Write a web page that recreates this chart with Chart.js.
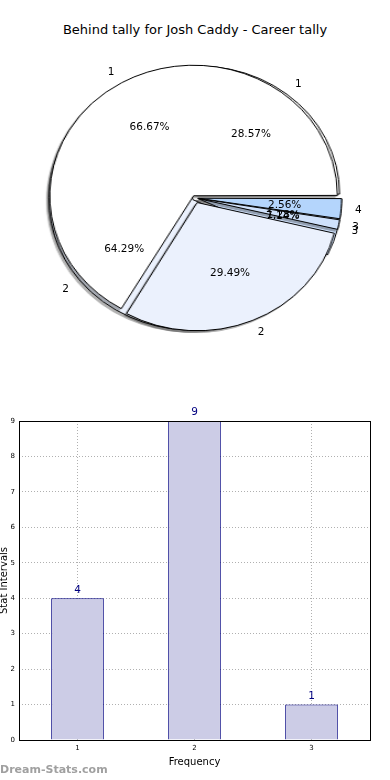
<!DOCTYPE html>
<html>
<head>
<meta charset="utf-8">
<script src="https://cdn.jsdelivr.net/npm/chart.js@4.4.0/dist/chart.umd.min.js"></script>
<style>
  body { margin: 0; background: #fff; width: 390px; height: 780px; overflow: hidden; position: relative; font-family: "DejaVu Sans", sans-serif; }
  #title { position: absolute; top: 22px; left: 0; width: 390px; text-align: center; font-size: 13px; color: #000; }
  .pie { position: absolute; left: 44.7px; top: 48.4px; transform: scaleX(1.1016); transform-origin: 150px 150px; filter: drop-shadow(-2px 2px 0 rgba(0,0,0,0.3)); }
  #pieText { position: absolute; left: 0; top: 0; }
  #bars { position: absolute; left: 0; top: 400px; }
  #mark { position: absolute; left: 0; top: 763px; font-size: 11px; font-weight: bold; color: #a0a0a0; }
</style>
</head>
<body>
<div id="title">Behind tally for Josh Caddy - Career tally</div>
<canvas id="pieA" class="pie" width="300" height="300"></canvas>
<canvas id="pieB" class="pie" width="300" height="300"></canvas>
<canvas id="pieText" width="390" height="400"></canvas>
<canvas id="bars" width="390" height="380"></canvas>
<div id="mark">Dream-Stats.com</div>

<script>
// pie 1 (frequency split) and pie 2 (drawn on top)
const pieLabelsA = ['1', '2', '3'];
const pieValuesA = [4, 9, 1];
const pieLabelsB = ['1', '2', '3', '4'];
const pieValuesB = [52, 23, 1, 2];

// bars
const barLabels = ['1', '2', '3'];
const barValues = [4, 9, 1];

// styling
const pieColors = ['#ffffff', '#ebf1fd', '#cfe1fb', '#b4d5fc'];
const explodeA = [0.04, 0.04, 0.04];
const explodeB = [0.04, 0.04, 0.04, 0.04];
const PIE_R = 128;
const PIE_LEFT = 44.7, PIE_TOP = 48.4, PIE_SX = 1.1016;
const FONT = '"DejaVu Sans", sans-serif';

const textCtx = document.getElementById('pieText').getContext('2d');

function arcShift(arc) {
  const c = arc.endAngle - arc.startAngle;
  const fix = 1 - Math.sin(Math.min(Math.PI, c));
  return (arc.options.offset || 0) / 4 * (1 + fix);
}

function toPage(x, y) {
  return [PIE_LEFT + 150 + (x - 150) * PIE_SX, PIE_TOP + y];
}

const pieText = {
  id: 'pieText',
  afterDraw(chart) {
    const meta = chart.getDatasetMeta(0);
    const vals = chart.data.datasets[0].data;
    const total = vals.reduce((a, b) => a + b, 0);
    const ctx = textCtx;
    ctx.save();
    ctx.fillStyle = '#000';
    ctx.font = '10.5px ' + FONT;
    ctx.textBaseline = 'middle';
    meta.data.forEach((arc, k) => {
      const mid = (arc.startAngle + arc.endAngle) / 2;
      const d = arcShift(arc);
      const r = arc.outerRadius;
      const cx = arc.x + Math.cos(mid) * d;
      const cy = arc.y + Math.sin(mid) * d;
      const [px, py] = toPage(cx + Math.cos(mid) * r * 0.6, cy + Math.sin(mid) * r * 0.6);
      ctx.textAlign = 'center';
      ctx.fillText((vals[k] / total * 100).toFixed(2) + '%', px, py);
      const [lx, ly] = toPage(cx + Math.cos(mid) * r * 1.1, cy + Math.sin(mid) * r * 1.1);
      ctx.textAlign = Math.cos(mid) > 0 ? 'left' : 'right';
      ctx.fillText(chart.data.labels[k], lx, ly);
    });
    ctx.restore();
  }
};

function drawPie(id, labels, values, explode) {
  const total = values.reduce((a, b) => a + b, 0);
  const order = labels.map((_, i) => i).reverse();
  const offsets = order.map(i => {
    const c = values[i] / total * 2 * Math.PI;
    const fix = 1 - Math.sin(Math.min(Math.PI, c));
    return 4 * explode[i] * PIE_R / (1 + fix);
  });
  return new Chart(document.getElementById(id), {
    type: 'pie',
    data: {
      labels: order.map(i => labels[i]),
      datasets: [{
        data: order.map(i => values[i]),
        backgroundColor: order.map(i => pieColors[i]),
        borderColor: '#000',
        borderWidth: 1,
        offset: offsets
      }]
    },
    options: {
      responsive: false,
      animation: false,
      events: [],
      rotation: 90,
      radius: PIE_R,
      plugins: { legend: { display: false }, tooltip: { enabled: false } }
    },
    plugins: [pieText]
  });
}

drawPie('pieA', pieLabelsA, pieValuesA, explodeA);
drawPie('pieB', pieLabelsB, pieValuesB, explodeB);

const frame = {
  id: 'frame',
  afterDraw(chart) {
    const { ctx, chartArea: a } = chart;
    ctx.save();
    ctx.strokeStyle = '#000';
    ctx.lineWidth = 1;
    ctx.strokeRect(Math.round(a.left) + 0.5, Math.round(a.top) + 0.5, Math.round(a.right - a.left), Math.round(a.bottom - a.top));
    ctx.restore();
  }
};

const valueLabels = {
  id: 'valueLabels',
  afterDatasetsDraw(chart) {
    const { ctx } = chart;
    const meta = chart.getDatasetMeta(0);
    ctx.save();
    ctx.fillStyle = '#000080';
    ctx.font = '10.5px ' + FONT;
    ctx.textAlign = 'center';
    ctx.textBaseline = 'bottom';
    meta.data.forEach((bar, i) => {
      ctx.fillText(String(barValues[i]), bar.x, bar.y - 3);
    });
    ctx.restore();
  }
};

new Chart(document.getElementById('bars'), {
  type: 'bar',
  data: {
    labels: barLabels,
    datasets: [{
      data: barValues,
      backgroundColor: '#cccce6',
      borderColor: '#000080',
      borderWidth: 1,
      categoryPercentage: 1,
      barPercentage: 0.45
    }]
  },
  options: {
    responsive: false,
    animation: false,
    events: [],
    layout: { padding: { left: 0, right: 20, top: 21, bottom: 0 } },
    scales: {
      x: {
        grid: { color: '#b0b0b0', drawTicks: false, offset: false },
        border: { display: false, dash: [1, 2] },
        ticks: { font: { size: 7, family: FONT }, color: '#000', padding: 4 },
        title: { display: true, text: 'Frequency', font: { size: 10, family: FONT }, color: '#000', padding: { top: 0, bottom: 12 } },
        afterFit(s) { s.height = 40; }
      },
      y: {
        min: 0,
        max: 9,
        grid: { color: '#b0b0b0', drawTicks: false },
        border: { display: false, dash: [1, 2] },
        ticks: { stepSize: 1, font: { size: 7, family: FONT }, color: '#000', padding: 4 },
        title: { display: true, text: 'Stat Intervals', font: { size: 10, family: FONT }, color: '#000', padding: { top: -2, bottom: 0 } },
        afterFit(s) { s.width = 19; }
      }
    },
    plugins: { legend: { display: false }, tooltip: { enabled: false } }
  },
  plugins: [frame, valueLabels]
});
</script>
</body>
</html>
